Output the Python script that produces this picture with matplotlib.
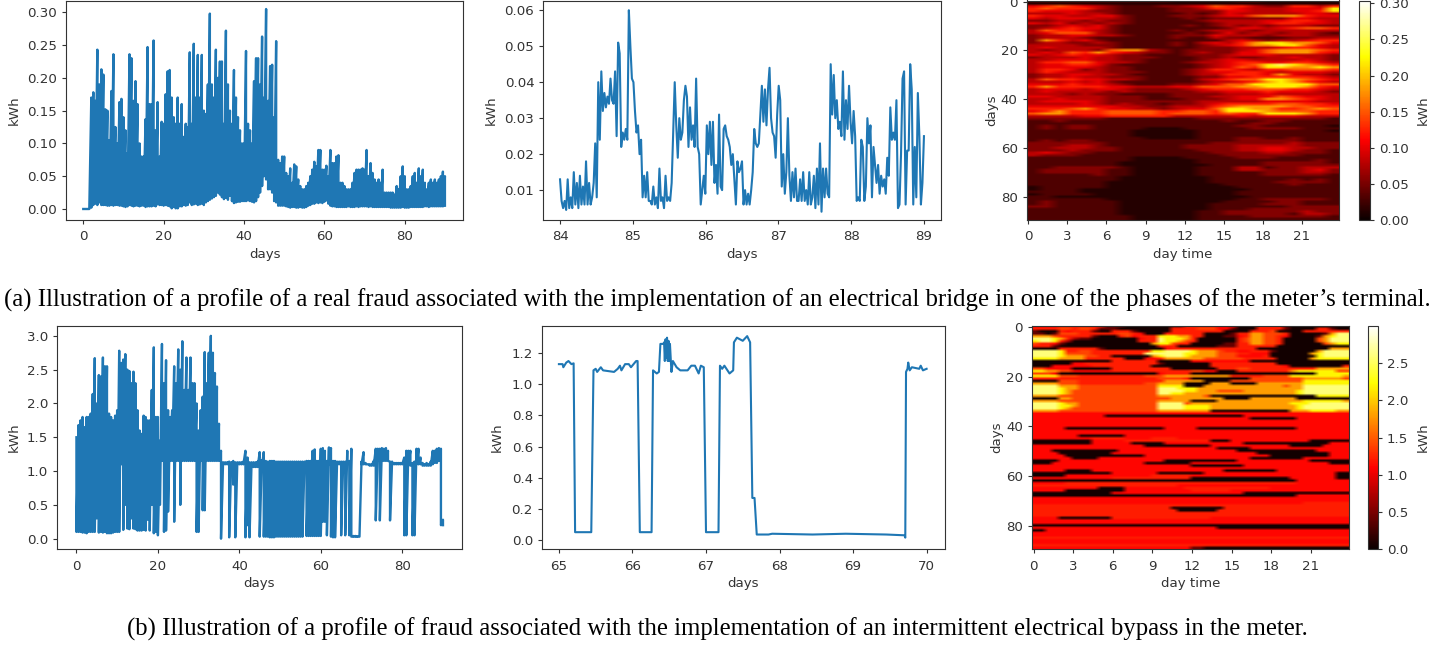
import matplotlib
matplotlib.use("Agg")
import matplotlib.pyplot as plt
import numpy as np

FIG_W = 1455
FIG_H = 647

# half day sampling, top and bottom of the dense band
a1_peaks = [
    0, 0, 0, 0, .17, .178, .165, .243, .19, .213, .205, .152, .15, .105, .18, .236, .125, .10, .163, .168,
    .14, .12, .085, .236, .23, .165, .195, .16, .10, .08, .08, .137, .247, .16, .16, .257, .12, .163, .08, .133,
    .13, .175, .21, .212, .17, .14, .13, .17, .13, .16, .11, .13, .125, .239, .13, .252, .17, .235, .17, .235,
    .15, .145, .19, .298, .19, .17, .243, .2, .225, .225, .13, .272, .19, .15, .13, .212, .17, .14, .12, .10,
    .10, .241, .13, .12, .10, .195, .23, .23, .19, .263, .17, .305, .165, .218, .22, .14, .256, .075, .07, .08,
    .08, .055, .05, .062, .04, .068, .065, .045, .035, .03, .03, .035, .04, .05, .06, .072, .065, .09, .09, .06,
    .06, .066, .05, .09, .07, .07, .08, .082, .04, .04, .035, .03, .03, .03, .04, .055, .06, .06, .06, .062,
    .06, .09, .05, .07, .055, .045, .04, .045, .04, .06, .025, .025, .025, .025, .025, .022, .035, .03, .05, .065,
    .05, .03, .03, .035, .05, .055, .04, .062, .05, .06, .04, .03, .04, .045, .04, .045, .04, .045, .05, .057,
    .05,
]
a1_floors = [
    0, 0, 0, 0, .002, .006, .008, .006, .01, .006, .006, .006, .005, .005, .006, .005, .006, .006, .005, .005,
    .004, .003, .004, .006, .005, .004, .005, .005, .004, .005, .005, .003, .004, .004, .004, .005, .004, .007, .006, .006,
    .005, .006, .005, .004, .001, .003, .001, .001, .004, .004, .006, .005, .006, .01, .006, .007, .008, .006, .007, .008,
    .006, .01, .012, .014, .016, .018, .02, .025, .022, .018, .015, .017, .014, .02, .012, .009, .01, .011, .011, .012,
    .012, .012, .013, .012, .011, .01, .012, .018, .025, .035, .05, .045, .03, .03, .025, .012, .01, .005, .005, .005,
    .005, .004, .003, .002, .003, .003, .002, .002, .003, .002, .002, .003, .005, .006, .008, .008, .01, .009, .01, .009,
    .011, .013, .008, .005, .004, .004, .003, .003, .003, .003, .003, .003, .004, .003, .003, .003, .004, .003, .004, .004,
    .004, .004, .003, .004, .003, .003, .003, .003, .003, .003, .003, .003, .003, .002, .002, .002, .002, .002, .002, .003,
    .002, .002, .002, .003, .003, .003, .003, .003, .003, .003, .004, .004, .003, .004, .004, .004, .004, .004, .004, .004,
    .005,
]

# every 30 minutes from day 84 to day 89
a2_kwh = [
    .013, .007, .005, .007, .0045, .013, .005, .008, .005, .015, .006, .012,
    .005, .014, .006, .011, .006, .018, .006, .012, .006, .008, .012, .023,
    .008, .040, .024, .043, .032, .037, .033, .036, .034, .041, .035, .034,
    .043, .025, .051, .048, .022, .026, .024, .027, .024, .060, .050, .041,
    .040, .032, .026, .028, .020, .024, .008, .014, .008, .015, .007, .007,
    .006, .011, .006, .008, .005, .016, .007, .008, .005, .014, .007, .008,
    .007, .012, .026, .040, .028, .019, .030, .024, .026, .035, .039, .036,
    .022, .033, .024, .028, .022, .041, .022, .020, .006, .010, .014, .009,
    .028, .020, .029, .017, .029, .012, .017, .009, .031, .011, .010, .027,
    .028, .025, .024, .022, .017, .020, .013, .006, .018, .015, .016, .018,
    .006, .010, .006, .009, .006, .010, .015, .027, .023, .022, .023, .031,
    .039, .029, .038, .028, .038, .044, .030, .026, .025, .019, .031, .039,
    .035, .011, .020, .009, .015, .030, .014, .007, .015, .008, .016, .007,
    .007, .013, .007, .015, .007, .010, .006, .015, .006, .008, .014, .005,
    .016, .006, .023, .004, .016, .008, .016, .009, .008, .045, .031, .042,
    .030, .035, .027, .029, .025, .043, .024, .035, .027, .039, .029, .023,
    .032, .025, .007, .008, .007, .024, .022, .007, .011, .030, .023, .028,
    .008, .022, .017, .012, .017, .009, .014, .011, .013, .009, .019, .014,
    .033, .024, .026, .024, .035, .005, .006, .020, .041, .043, .006, .021,
    .021, .045, .038, .006, .022, .008, .037, .025, .006, .012, .025,
]

b1_peaks = [
    1.5, 1.68, 1.75, 1.8, 1.65, 1.8, 1.8, 1.85, 2.14, 2.67, 2.0, 2.42, 2.4, 2.68, 2.55, 2.55, 1.85, 1.8, 1.75, 1.82,
    1.9, 2.78, 2.6, 2.65, 2.73, 2.5, 2.48, 2.3, 2.47, 2.3, 1.9, 1.6, 1.55, 1.82, 1.8, 1.75, 1.75, 2.2, 2.83, 1.8,
    1.8, 1.45, 2.88, 2.3, 2.64, 1.9, 1.8, 1.9, 2.55, 2.3, 2.8, 2.5, 2.92, 2.2, 2.68, 2.2, 2.68, 2.3, 2.3, 2.0,
    1.6, 1.9, 2.1, 2.76, 2.3, 2.75, 3.0, 2.75, 2.45, 2.25, 1.7, 1.3, 1.13, 1.13, 1.13, 1.14, 1.13, 1.15, 1.13, 1.13,
    1.13, 1.13, 1.14, 1.3, 1.2, 1.13, 1.13, 1.13, 1.13, 1.14, 1.28, 1.16, 1.28, 1.15, 1.14, 1.15, 1.15, 1.15, 1.14, 1.14,
    1.14, 1.14, 1.14, 1.14, 1.14, 1.14, 1.14, 1.14, 1.14, 1.14, 1.14, 1.14, 1.14, 1.15, 1.15, 1.15, 1.3, 1.32, 1.15, 1.15,
    1.33, 1.34, 1.3, 1.15, 1.35, 1.34, 1.15, 1.15, 1.14, 1.14, 1.14, 1.14, 1.14, 1.3, 1.15, 1.33, .04, .04, .035, .03,
    1.14, 1.28, 1.12, 1.1, 1.1, 1.1, 1.15, 1.33, 1.33, 1.33, 1.34, 1.33, 1.34, 1.3, 1.14, 1.14, 1.12, 1.12, 1.12, 1.12,
    1.12, 1.2, 1.3, 1.3, 1.3, 1.12, 1.14, 1.33, 1.33, 1.2, 1.12, 1.1, 1.12, 1.1, 1.14, 1.3, 1.3, 1.33, 1.34, 1.33,
    .28,
]
b1_floors = [
    .1, .1, .1, .09, .09, .08, .1, .1, .1, .1, .3, .09, .1, .09, .1, .08, .08, .08, .09, .1,
    .1, .1, 1.1, .13, .5, .15, .14, .3, .15, .14, .12, .12, .12, .13, .12, .28, .12, .5, .08, .1,
    .05, .5, 1.15, .1, .12, .4, 1.15, 1.15, .25, 1.15, 1.15, .5, 1.15, 1.15, 1.15, 1.15, 1.15, 1.15, 1.15, .1,
    .1, 1.15, .42, .42, 1.15, 1.15, 1.15, 1.15, 1.15, 1.15, 1.15, 0, 1.1, 1.1, 1.1, .02, 1.1, .8, .02, 1.1,
    1.1, 1.1, 1.1, .02, .2, .02, 1.06, 1.06, 1.06, 1.06, .03, 1.05, .03, .03, .03, .02, .02, .02, .03, .03,
    .03, .03, .03, .03, .03, .03, .03, .03, .03, .03, .03, .03, 1.1, .04, .04, .04, .04, .04, .04, .04,
    .04, .25, .25, .05, 1.1, .03, .02, .02, 1.1, 1.1, .05, 1.1, .05, 1.1, .05, .03, .03, .03, .03, .03,
    1.1, 1.1, 1.1, 1.1, 1.08, 1.08, 1.08, .27, 1.15, .27, 1.15, 1.15, 1.15, 1.15, .27, 1.1, 1.1, 1.1, 1.1, 1.1,
    1.1, .05, .05, 1.1, 1.08, .05, .05, 1.1, 1.1, 1.1, 1.08, 1.08, 1.08, 1.08, 1.08, 1.1, 1.12, 1.12, 1.15, .2,
    .2,
]

b2_days = [
    65, 65.05, 65.06, 65.1, 65.13, 65.17, 65.2, 65.22, 65.44, 65.47, 65.5, 65.52, 65.57, 65.6, 65.75, 65.8, 65.83,
    65.85, 65.9, 65.95, 65.98, 66.05, 66.07, 66.1, 66.26, 66.28, 66.33, 66.36, 66.38, 66.42, 66.43, 66.44, 66.45,
    66.46, 66.47, 66.48, 66.49, 66.5, 66.51, 66.53, 66.55, 66.6, 66.65, 66.75, 66.8, 66.85, 66.9, 66.93, 66.97,
    67, 67.17, 67.19, 67.22, 67.25, 67.32, 67.37, 67.38, 67.42, 67.5, 67.56, 67.6, 67.63, 67.66, 67.69, 67.85,
    67.9, 68.45, 68.9, 69.45, 69.7, 69.71, 69.72, 69.74, 69.75, 69.77, 69.8, 69.9, 69.92, 69.95, 70,
]
b2_kwh = [
    1.13, 1.13, 1.11, 1.14, 1.15, 1.13, 1.135, .05, .05, 1.09, 1.1, 1.08, 1.11, 1.09, 1.08, 1.1, 1.12,
    1.09, 1.13, 1.13, 1.11, 1.15, 1.15, .05, .05, 1.09, 1.07, 1.08, 1.26, 1.26, 1.27, 1.15, 1.29,
    1.17, 1.3, 1.15, 1.28, 1.15, 1.26, 1.08, 1.15, 1.11, 1.09, 1.09, 1.12, 1.12, 1.07, 1.12, 1.11,
    .05, .05, 1.12, 1.1, 1.12, 1.07, 1.09, 1.27, 1.3, 1.28, 1.31, 1.27, .27, .27, .035, .035,
    .04, .035, .04, .035, .03, .015, 1.08, 1.1, 1.14, 1.09, 1.11, 1.1, 1.12, 1.09, 1.1,
]

# heatmap rows are one day each, each digit picks a kWh value from the palette
a3_palette = [.012, .032, .055, .08, .1, .125, .15, .18, .22, .26]
a3_levels = [
    "111111 111110 000011 000000",
    "000000 000000 000000 000000",
    "456543 211122 346553 225535",
    "565553 211112 235543 334448",
    "544432 211112 222443 334458",
    "333433 211111 212433 333443",
    "544334 421112 223446 777544",
    "434443 321111 212222 224433",
    "223323 221111 123333 445543",
    "434232 321111 112333 455443",
    "223434 211111 212323 233322",
    "234544 211111 111244 345665",
    "365543 211112 123332 333333",
    "346663 211111 212423 323321",
    "233443 321112 224333 233322",
    "233321 111112 113221 112233",
    "275342 111111 111343 233455",
    "233223 211112 134357 887764",
    "333322 211112 123457 788643",
    "343333 211111 122233 345543",
    "323332 677321 222234 677765",
    "343657 543221 232244 677754",
    "434544 322111 222344 433332",
    "233343 322211 122322 334332",
    "334443 322111 123443 333432",
    "355664 332111 233455 445543",
    "344554 211111 123456 898765",
    "344443 221111 123465 887787",
    "355423 221111 235543 556665",
    "354333 222111 234455 434443",
    "233443 321111 233555 474332",
    "233433 222111 122445 555543",
    "365544 332111 134566 887654",
    "333434 211111 123345 787543",
    "444544 321112 234668 888866",
    "575555 443334 466677 888754",
    "344434 432222 345556 665543",
    "343333 232222 233444 544432",
    "333232 211112 222333 433333",
    "443333 222112 223344 465443",
    "334333 222111 222344 776543",
    "344443 222222 233333 444433",
    "333343 232212 234555 566554",
    "444444 433223 335677 776655",
    "555675 443323 446887 755676",
    "457555 666655 665888 766655",
    "677555 666656 665655 888755",
    "333344 555553 333343 444333",
    "222222 111111 122222 222221",
    "112111 111111 111211 221111",
    "111111 111111 111112 211111",
    "121221 111111 111122 111110",
    "121221 111000 111112 222111",
    "111111 110000 011111 111110",
    "111111 110000 011111 111111",
    "111111 110000 011111 111111",
    "111111 111000 011122 112111",
    "121221 111111 111122 222111",
    "222222 111111 112222 223222",
    "222332 111111 222233 333222",
    "223332 211111 222233 443322",
    "222322 211111 122233 443221",
    "343221 111111 112222 332221",
    "322211 111111 111222 222111",
    "111111 110000 111122 211111",
    "111111 110000 011111 111121",
    "111111 100000 011111 222221",
    "111111 100000 001111 222222",
    "112222 210000 011133 122333",
    "122222 110000 011133 222342",
    "122222 110000 011111 222332",
    "111112 110000 011111 222221",
    "111111 100000 001111 111111",
    "111111 100000 001111 112121",
    "111111 000000 001111 122221",
    "111111 000000 000111 112111",
    "011111 000000 000011 111111",
    "011100 000000 000001 111111",
    "111100 000000 000011 111111",
    "011110 000000 000011 111111",
    "110000 000000 000001 111111",
    "111111 000000 000011 222221",
    "121111 100000 000111 122111",
    "121111 100000 001111 222111",
    "221111 100000 001111 112222",
    "111111 100000 001112 222222",
    "111111 100000 011222 222322",
    "111111 100000 011222 221332",
    "111111 110000 011112 222221",
    "111111 110000 011111 111111",
]

b3_palette = [.04, .4, .7, .95, 1.12, 1.22, 1.4, 1.8, 2.2, 2.6]
b3_levels = [
    "444455555551 110000000115 555544400055 551000000000",
    "555566566511 100000000555 566644100055 551000055100",
    "100054555100 555100000555 555550000555 600005555555",
    "110166655555 566540005555 550000155776 665000001799",
    "777655555100 056455588877 550001145776 654000017899",
    "999875211000 000045598887 500000056776 650000067999",
    "899852000000 000055598876 500000056776 650000067999",
    "655410000000 000000788655 000001155776 650000006788",
    "555100000000 000000055500 000011155555 500000000000",
    "000055555510 000000004555 555555555500 000000000777",
    "999985566555 555555889999 877765544555 100000079999",
    "999986666555 555559999998 877766655444 000000789999",
    "999987776655 000000789998 777766644445 000000089999",
    "888877775555 550004457777 776666665555 500000788888",
    "000000000000 555555500000 444444444000 000000000000",
    "000000445555 555555510000 000555555555 500000000000",
    "000444444555 555555000000 000555555555 554000000005",
    "664444000000 555555555000 000055566555 555555577777",
    "887766444444 555555555555 664400055555 555788888866",
    "666400000000 000000045555 000000000000 000000088888",
    "888866655555 555556667777 777777555556 666888888887",
    "555555555555 555555566665 000000000666 666667777776",
    "000066655555 555555557777 770000666666 666668888888",
    "777766655555 555556677770 000777000077 777778888888",
    "999977766666 666666688880 007777777777 776779999999",
    "999987766666 666666699988 877777777777 777779999999",
    "999987666666 666666699998 877766667777 777789999999",
    "999987666666 666666699887 777777777777 777789999999",
    "777766666666 666666677777 776000000000 000000088888",
    "000077666666 666666666777 777770000777 777700000000",
    "777766666666 666666677777 000077777777 777778888887",
    "999987766666 666666699996 777777777777 777888999999",
    "999988766666 666666699998 888777777777 777789999999",
    "999987666666 666666699998 888777777777 777789999999",
    "777766666666 666666677777 777000000000 000777888877",
    "444444444444 444444444444 444444444444 444444444444",
    "444444444440 000000000000 000000004444 444444444444",
    "444444444444 444444444444 444444444000 000044444444",
    "444444444444 444444444444 444444444444 444444444444",
    "444444444444 444444444444 444444444444 444444444444",
    "444444444444 444444444444 444444444444 444444444444",
    "444440000000 000000004444 400000000000 000044444444",
    "444444444444 444444444444 444444444444 444444444444",
    "444444444444 444444444444 444444444444 444444444444",
    "444444400000 004444444444 444444444444 444444444444",
    "444444444555 554444555544 444444444444 444444444444",
    "000000000444 445555555555 555000444444 444444000000",
    "000000000444 444000004444 444444440000 000000000444",
    "444444444444 444440000000 000444444444 444000004444",
    "444444444444 444444444444 444400000444 444444444444",
    "444000000000 044444444444 444444400000 000000044444",
    "444400000000 444444444444 444444444400 000000000444",
    "444440000000 000004444444 444444444444 000000000444",
    "444444000044 444444444444 444444444000 000004444444",
    "000044444444 444444440000 000000044444 444444000000",
    "000444444444 444440000000 444444444444 444444444000",
    "444444444444 444444444444 000000004444 444444444444",
    "444444444444 444444444444 444444444444 444444444444",
    "444440000444 444444444444 444440000000 044444444444",
    "000000000000 444444400000 004444444444 444444444400",
    "000004444444 444444555555 444444444444 444444444400",
    "444444444444 555555555555 000000000000 000444444400",
    "000000000000 000000000000 000000000000 000044444444",
    "444445555555 555555555555 555555555555 555544444444",
    "555555555555 555555555544 444444444444 444444444444",
    "444444444400 004444444445 555555555555 444444444444",
    "444440000000 004444444444 555555444444 444444444444",
    "000000000000 444444444444 444444440000 000000000000",
    "000000000000 000000000000 000000000000 000044444444",
    "444444444444 444444444444 444444444444 444444444444",
    "444444444444 444444444444 444444444444 444444444444",
    "444444444444 444444444444 444444444444 444445555555",
    "555555555555 555555555555 555555555555 555555555555",
    "555555555555 555555555000 000005555555 555555555555",
    "555555555555 555555555500 000055555555 555555555555",
    "555555555555 555555555555 555555555555 555555555555",
    "555555555555 555555555555 555555555555 555555555555",
    "444400000000 555555555555 555444444444 444444444444",
    "444444444444 444444444444 444444444444 444444444444",
    "444444444444 444444444444 444444444444 444444444444",
    "000000000000 000000000000 000000000000 000000000000",
    "444444444444 444444444444 444400000000 000000000000",
    "004444444444 444444444444 444444444444 444444444444",
    "444444444444 444444444444 444444444444 444444444444",
    "444444444444 444444444444 444444444444 444444444444",
    "555555555555 555555555555 555555555555 555555555555",
    "444444444444 444444444444 444444444444 444444444444",
    "444444444444 444444444444 444444444444 444444444444",
    "555555555555 555555555555 555555555555 555555555555",
    "444444444444 444444444444 110000000000 000000000000",
]

heat_hour_ticks = [0, 3, 6, 9, 12, 15, 18, 21]
caption_a = "(a) Illustration of a profile of a real fraud associated with the implementation of an electrical bridge in one of the phases of the meter\u2019s terminal."
caption_b = "(b) Illustration of a profile of fraud associated with the implementation of an intermittent electrical bypass in the meter."

EDGE = "#333333"
LINE = "#1f77b4"

plt.rcParams["font.family"] = "DejaVu Sans"
plt.rcParams["font.size"] = 9.6
plt.rcParams["text.color"] = EDGE
plt.rcParams["axes.labelcolor"] = EDGE
plt.rcParams["axes.edgecolor"] = EDGE
plt.rcParams["xtick.color"] = EDGE
plt.rcParams["ytick.color"] = EDGE
plt.rcParams["xtick.major.size"] = 3
plt.rcParams["ytick.major.size"] = 3
plt.rcParams["xtick.major.pad"] = 4.5
plt.rcParams["axes.labelpad"] = 3

fig = plt.figure(figsize=(FIG_W / 100, FIG_H / 100), dpi=100)


def px_axes(left, top, right, bottom):
    return fig.add_axes([left / FIG_W, 1 - bottom / FIG_H, (right - left) / FIG_W, (bottom - top) / FIG_H])


def dense_line(ax, peaks, floors):
    days = np.linspace(0, 90, len(peaks))
    ax.plot(np.repeat(days, 2), np.column_stack([peaks, floors]).ravel(), color=LINE, lw=1.7)
    ax.set_xticks([0, 20, 40, 60, 80])
    ax.set_xlabel("days")
    ax.set_ylabel("kWh", labelpad=4.5)


def heat(ax, cax, levels, palette, vmax, interp, cticks, cfmt):
    rows = [row.replace(" ", "") for row in levels]
    grid = np.array([[palette[int(c)] for c in row] for row in rows])
    im = ax.imshow(grid, cmap="hot", vmin=0, vmax=vmax, aspect="auto", interpolation=interp,
                   extent=(-0.125, 23.875, 89.5, -0.5))
    ax.set_xticks(heat_hour_ticks)
    ax.set_yticks([0, 20, 40, 60, 80])
    ax.set_xlabel("day time")
    ax.set_ylabel("days", labelpad=2)
    cb = fig.colorbar(im, cax=cax)
    cb.set_ticks(cticks)
    cb.ax.set_yticklabels([cfmt % t for t in cticks])
    cb.set_label("kWh", labelpad=6)


ax = px_axes(66, 0.5, 463, 220)
dense_line(ax, a1_peaks, a1_floors)
ax.set_xlim(-4.3, 94.5)
ax.set_ylim(-0.0168, 0.318)
ax.set_yticks([0, .05, .1, .15, .2, .25, .3])
ax.set_yticklabels(["0.00", "0.05", "0.10", "0.15", "0.20", "0.25", "0.30"])

ax = px_axes(543.3, 0.5, 940.7, 220)
ax.plot(np.linspace(84, 89, len(a2_kwh)), a2_kwh, color=LINE, lw=1.5)
ax.set_xlim(83.77, 89.23)
ax.set_ylim(0.0017, 0.0627)
ax.set_yticks([.01, .02, .03, .04, .05, .06])
ax.set_xlabel("days")
ax.set_ylabel("kWh", labelpad=5)

heat(px_axes(1026.7, 0.5, 1339.3, 220), px_axes(1359.3, 0.5, 1369.7, 220), a3_levels, a3_palette, 0.304,
     "bilinear", [0, .05, .1, .15, .2, .25, .3], "%.2f")

ax = px_axes(57.3, 325.7, 461.7, 549.3)
dense_line(ax, b1_peaks, b1_floors)
ax.set_xlim(-4.7, 94.6)
ax.set_ylim(-0.157, 3.15)
ax.set_yticks([0, .5, 1, 1.5, 2, 2.5, 3])

ax = px_axes(542, 325.7, 945, 549.3)
ax.plot(b2_days, b2_kwh, color=LINE, lw=1.5)
ax.set_xlim(64.77, 70.25)
ax.set_ylim(-0.06, 1.377)
ax.set_yticks([0, .2, .4, .6, .8, 1, 1.2])
ax.set_xlabel("days")
ax.set_ylabel("kWh", labelpad=6)

heat(px_axes(1032, 326, 1348.7, 549.3), px_axes(1367.7, 326, 1378, 549.3), b3_levels, b3_palette, 3.0,
     "bilinear", [0, .5, 1, 1.5, 2, 2.5], "%.1f")

fig.text(717.5 / FIG_W, 1 - 300 / FIG_H, caption_a, family="Liberation Serif", fontsize=17.83, color="black",
         ha="center", va="center")
fig.text(717 / FIG_W, 1 - 629 / FIG_H, caption_b, family="Liberation Serif", fontsize=17.83, color="black",
         ha="center", va="center")

fig.savefig("out.png", dpi=100)
